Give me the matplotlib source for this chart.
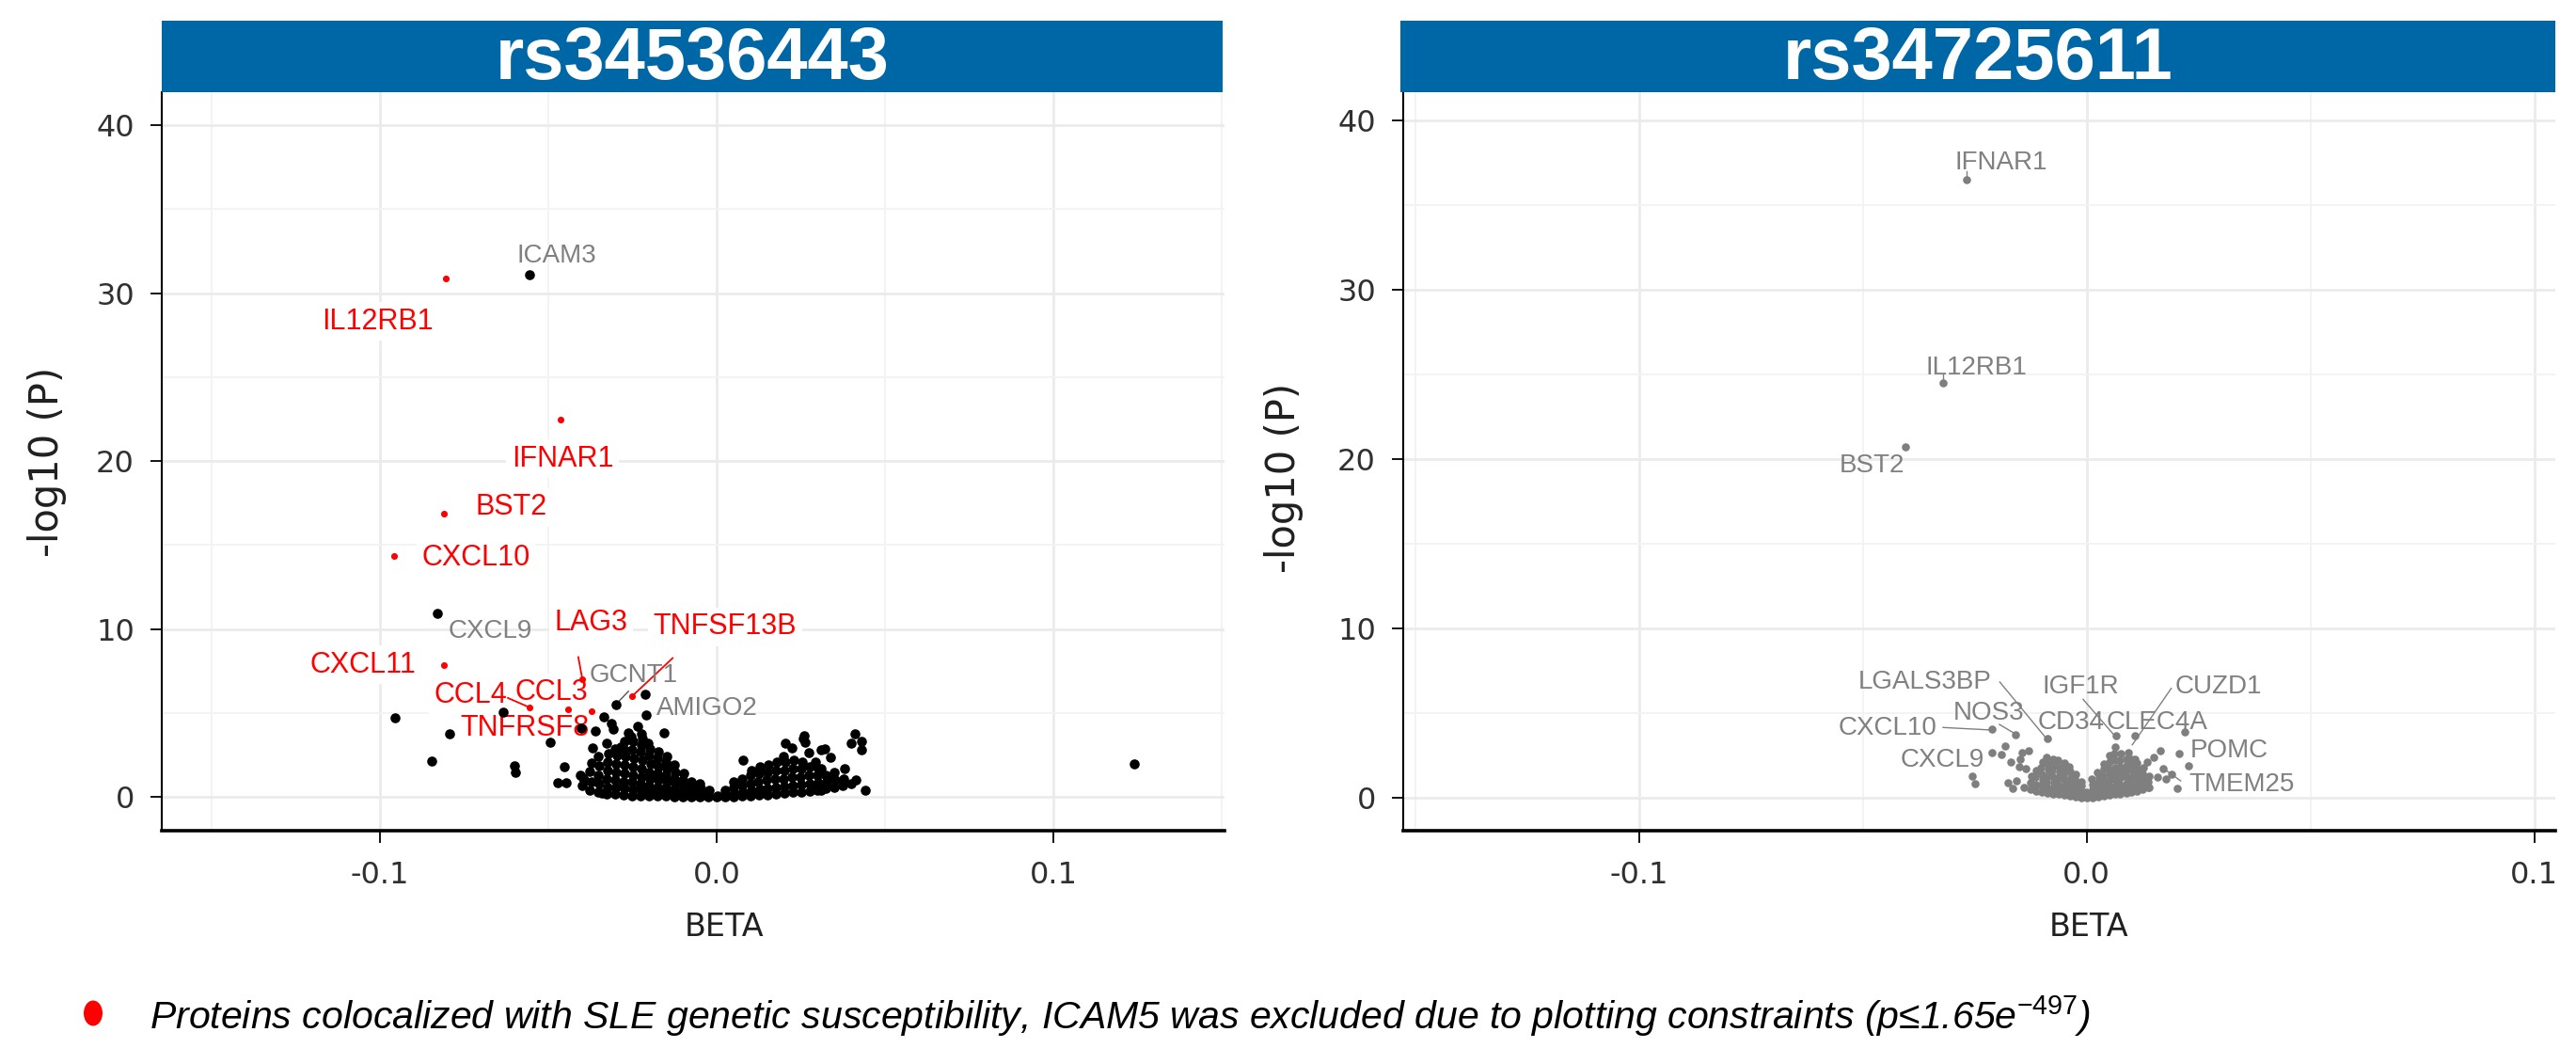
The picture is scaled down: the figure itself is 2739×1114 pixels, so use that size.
import numpy as np
import matplotlib.pyplot as plt
from matplotlib import font_manager
from matplotlib.ticker import MultipleLocator
from matplotlib.patches import Ellipse

"""
Volcano plots of protein associations for two SNPs (rs34536443, rs34725611)
"""


def has_font(name):
    try:
        font_manager.findfont(name, fallback_to_default=False)
        return True
    except ValueError:
        return False


note_font = 'Liberation Sans Narrow' if has_font('Liberation Sans Narrow') else 'Liberation Sans'

plt.rcParams['axes.unicode_minus'] = False
plt.rcParams['font.family'] = ['DejaVu Sans']
plt.rcParams['mathtext.fontset'] = 'custom'
plt.rcParams['mathtext.rm'] = note_font
plt.rcParams['mathtext.it'] = note_font + ':italic'

#%% data: rs34536443 (left panel)
left_title = 'rs34536443'

# colocalized proteins (red)
left_red_names = ['IL12RB1', 'IFNAR1', 'BST2', 'CXCL10', 'CXCL11', 'LAG3', 'TNFSF13B', 'CCL3', 'TNFRSF8', 'CCL4']
left_red_beta = [-0.0804, -0.0464, -0.0810, -0.0957, -0.0810, -0.0399, -0.0252, -0.0371, -0.0441, -0.0555]
left_red_logp = [30.85, 22.45, 16.85, 14.35, 7.87, 7.02, 5.99, 5.10, 5.25, 5.33]
left_red_lab_beta = [-0.1006, -0.0458, -0.0609, -0.0715, -0.1050, -0.0372, 0.0025, -0.0490, -0.0571, -0.0732]
left_red_lab_logp = [28.3, 20.14, 17.25, 14.25, 7.86, 10.38, 10.14, 6.22, 4.09, 6.05]

# other labelled proteins (grey text)
left_grey_names = ['ICAM3', 'CXCL9', 'GCNT1', 'AMIGO2']
left_grey_lab_beta = [-0.0475, -0.0673, -0.0246, -0.0029]
left_grey_lab_logp = [32.2, 9.9, 7.23, 5.27]

# all other proteins (black)
left_points = [
    (-0.0555, 31.10), (-0.0830, 10.95), (-0.0955, 4.74), (-0.0792, 3.75), (-0.0846, 2.16),
    (-0.0601, 1.88), (-0.0598, 1.50), (-0.0634, 5.05), (-0.0494, 3.28), (-0.0453, 1.79),
    (-0.0471, 0.86), (-0.0448, 0.86), (-0.0299, 5.53), (-0.0212, 6.12), (-0.0210, 4.87),
    (-0.0156, 3.80), (-0.0336, 4.78), (-0.0313, 4.41), (-0.0308, 4.03), (-0.0360, 3.94),
    (-0.0401, 4.13), (-0.0327, 3.23), (-0.0285, 3.00), (-0.0369, 2.91), (-0.0262, 3.85),
    (-0.0234, 4.22), (-0.0224, 3.75), (-0.0406, 1.32), (-0.0392, 0.95), (-0.0341, 0.24),
    (0.0078, 2.20), (0.0260, 3.66), (0.0262, 3.29), (0.0204, 3.19), (0.0223, 2.91),
    (0.0409, 3.75), (0.0400, 3.19), (0.0430, 2.82), (0.0311, 2.82), (0.0339, 2.35),
    (0.0274, 2.63), (0.0292, 2.07), (0.0441, 0.43), (0.0413, 1.05), (0.0381, 1.70),
    (0.0344, 1.18), (0.0311, 1.70), (0.0292, 0.58), (0.0311, 0.39), (0.1240, 1.96),
    (0.0258, 3.51), (0.0320, 2.86), (0.0430, 3.30),
    # dense core, negative side
    (-0.0400, 0.70), (-0.0398, 1.15),
    (-0.0377, 0.40), (-0.0373, 0.90), (-0.0376, 1.55), (-0.0372, 2.05),
    (-0.0352, 0.30), (-0.0349, 0.80), (-0.0353, 1.30), (-0.0348, 1.85), (-0.0351, 2.40),
    (-0.0326, 0.20), (-0.0324, 0.60), (-0.0327, 1.10), (-0.0323, 1.60), (-0.0325, 2.10), (-0.0322, 2.60),
    (-0.0301, 0.18), (-0.0299, 0.60), (-0.0302, 1.00), (-0.0298, 1.50), (-0.0300, 2.00), (-0.0297, 2.50),
    (-0.0301, 2.90),
    (-0.0276, 0.15), (-0.0274, 0.50), (-0.0277, 0.90), (-0.0273, 1.40), (-0.0275, 1.90), (-0.0272, 2.40),
    (-0.0276, 2.90), (-0.0274, 3.30),
    (-0.0251, 0.10), (-0.0249, 0.45), (-0.0252, 0.90), (-0.0248, 1.30), (-0.0250, 1.80), (-0.0247, 2.30),
    (-0.0251, 2.80), (-0.0249, 3.30), (-0.0253, 3.60),
    (-0.0226, 0.10), (-0.0224, 0.40), (-0.0227, 0.80), (-0.0223, 1.20), (-0.0225, 1.70), (-0.0222, 2.20),
    (-0.0226, 2.70), (-0.0224, 3.10), (-0.0221, 3.50),
    (-0.0201, 0.08), (-0.0199, 0.35), (-0.0202, 0.70), (-0.0198, 1.10), (-0.0200, 1.50), (-0.0197, 2.00),
    (-0.0201, 2.50), (-0.0199, 2.90), (-0.0203, 3.20),
    (-0.0176, 0.06), (-0.0174, 0.30), (-0.0177, 0.60), (-0.0173, 1.00), (-0.0175, 1.40), (-0.0172, 1.80),
    (-0.0176, 2.30), (-0.0174, 2.70),
    (-0.0151, 0.05), (-0.0149, 0.25), (-0.0152, 0.55), (-0.0148, 0.90), (-0.0150, 1.30), (-0.0147, 1.70),
    (-0.0151, 2.10), (-0.0149, 2.40),
    (-0.0126, 0.04), (-0.0124, 0.20), (-0.0127, 0.45), (-0.0123, 0.80), (-0.0125, 1.10), (-0.0122, 1.50),
    (-0.0126, 1.90),
    (-0.0101, 0.03), (-0.0099, 0.15), (-0.0102, 0.40), (-0.0098, 0.70), (-0.0100, 1.00), (-0.0097, 1.40),
    (-0.0076, 0.02), (-0.0074, 0.10), (-0.0077, 0.30), (-0.0073, 0.60), (-0.0075, 0.90),
    (-0.0051, 0.01), (-0.0049, 0.08), (-0.0052, 0.25), (-0.0048, 0.50), (-0.0050, 0.80),
    (-0.0026, 0.00), (-0.0024, 0.05), (-0.0027, 0.20), (-0.0023, 0.40),
    (0.0000, 0.00), (0.0002, 0.10),
    # dense core, positive side
    (0.0025, 0.02), (0.0027, 0.15), (0.0024, 0.40),
    (0.0050, 0.04), (0.0052, 0.25), (0.0049, 0.60), (0.0051, 0.90),
    (0.0075, 0.06), (0.0077, 0.30), (0.0074, 0.70), (0.0076, 1.10),
    (0.0100, 0.10), (0.0102, 0.40), (0.0099, 0.80), (0.0101, 1.30), (0.0103, 1.60),
    (0.0125, 0.12), (0.0127, 0.45), (0.0124, 0.90), (0.0126, 1.40), (0.0128, 1.80),
    (0.0150, 0.15), (0.0152, 0.50), (0.0149, 1.00), (0.0151, 1.50), (0.0153, 1.90),
    (0.0175, 0.20), (0.0177, 0.60), (0.0174, 1.10), (0.0176, 1.60), (0.0178, 2.10),
    (0.0200, 0.25), (0.0202, 0.65), (0.0199, 1.10), (0.0201, 1.60), (0.0203, 2.10), (0.0198, 2.40),
    (0.0225, 0.30), (0.0227, 0.70), (0.0224, 1.20), (0.0226, 1.70), (0.0228, 2.20),
    (0.0250, 0.30), (0.0252, 0.75), (0.0249, 1.20), (0.0251, 1.70), (0.0253, 2.10),
    (0.0275, 0.35), (0.0277, 0.80), (0.0274, 1.30), (0.0276, 1.80),
    (0.0300, 0.40), (0.0302, 0.85), (0.0299, 1.30), (0.0301, 1.70),
    (0.0325, 0.50), (0.0327, 0.90), (0.0324, 1.30),
    (0.0350, 0.60), (0.0352, 1.00), (0.0349, 1.50),
    (0.0375, 0.70), (0.0377, 1.10),
    (0.0400, 0.80),
]

# leader lines (from label to point)
left_red_lines = [((-0.0411, 8.33), (-0.0399, 7.02)),
                  ((-0.0131, 8.27), (-0.0252, 5.99)),
                  ((-0.0620, 5.90), (-0.0555, 5.33))]
left_grey_lines = [((-0.0299, 5.53), (-0.0262, 6.30))]

#%% data: rs34725611 (right panel)
right_title = 'rs34725611'

right_names = ['IFNAR1', 'IL12RB1', 'BST2', 'LGALS3BP', 'IGF1R', 'CUZD1', 'NOS3', 'CD34', 'CLEC4A',
               'CXCL10', 'CXCL9', 'POMC', 'TMEM25']
right_lab_beta = [-0.0192, -0.0247, -0.0479, -0.0361, -0.0014, 0.0295, -0.0219, -0.0034, 0.0158,
                  -0.0445, -0.0323, 0.0319, 0.0346]
right_lab_logp = [37.48, 25.37, 19.6, 6.83, 6.55, 6.55, 5.0, 4.44, 4.44, 4.1, 2.25, 2.78, 0.78]

right_points = [
    (-0.0268, 36.50), (-0.0321, 24.50), (-0.0404, 20.70),
    (-0.0211, 4.05), (-0.0160, 3.74), (-0.0088, 3.50), (0.0066, 3.68), (0.0108, 3.68), (0.0220, 3.87),
    (0.0206, 2.63), (0.0227, 1.89), (0.0203, 0.54), (0.0178, 1.09), (0.0140, 0.63),
    (0.0164, 2.76), (0.0150, 2.39), (0.0136, 2.11), (0.0094, 2.67), (0.0108, 2.29),
    (-0.0183, 3.04), (-0.0190, 2.57), (-0.0169, 2.11), (-0.0148, 2.29), (-0.0137, 1.74),
    (-0.0151, 1.83), (-0.0176, 0.91), (-0.0158, 1.00), (-0.0256, 1.28), (-0.0249, 0.81),
    (-0.0130, 2.76), (-0.0144, 2.67), (-0.0211, 2.67), (0.0171, 1.74), (0.0190, 1.40),
    (0.0158, 1.20), (-0.0140, 0.60), (-0.0165, 0.55),
    # dense core, negative side
    (-0.0125, 0.50), (-0.0126, 0.90), (-0.0124, 1.30),
    (-0.0113, 0.40), (-0.0112, 0.80), (-0.0114, 1.20), (-0.0113, 1.60),
    (-0.0100, 0.35), (-0.0101, 0.70), (-0.0099, 1.05), (-0.0100, 1.40), (-0.0102, 1.80), (-0.0099, 2.10),
    (-0.0088, 0.30), (-0.0087, 0.60), (-0.0089, 0.95), (-0.0088, 1.30), (-0.0086, 1.65), (-0.0088, 2.00),
    (-0.0089, 2.40),
    (-0.0075, 0.25), (-0.0076, 0.55), (-0.0074, 0.90), (-0.0075, 1.25), (-0.0077, 1.60), (-0.0074, 1.95),
    (-0.0075, 2.30),
    (-0.0063, 0.20), (-0.0062, 0.50), (-0.0064, 0.80), (-0.0063, 1.15), (-0.0061, 1.50), (-0.0063, 1.85),
    (-0.0064, 2.20),
    (-0.0050, 0.15), (-0.0051, 0.45), (-0.0049, 0.75), (-0.0050, 1.05), (-0.0052, 1.40), (-0.0049, 1.75),
    (-0.0050, 2.05),
    (-0.0038, 0.10), (-0.0037, 0.35), (-0.0039, 0.65), (-0.0038, 0.95), (-0.0036, 1.25), (-0.0038, 1.55),
    (-0.0039, 1.85),
    (-0.0025, 0.05), (-0.0026, 0.30), (-0.0024, 0.55), (-0.0025, 0.80), (-0.0027, 1.10), (-0.0024, 1.40),
    (-0.0013, 0.03), (-0.0012, 0.20), (-0.0014, 0.45), (-0.0013, 0.70), (-0.0011, 0.95),
    (0.0000, 0.00), (0.0001, 0.15), (-0.0001, 0.35),
    # dense core, positive side
    (0.0013, 0.03), (0.0012, 0.25), (0.0014, 0.50), (0.0013, 0.80), (0.0011, 1.10),
    (0.0025, 0.06), (0.0026, 0.30), (0.0024, 0.60), (0.0025, 0.90), (0.0027, 1.20), (0.0024, 1.50),
    (0.0038, 0.10), (0.0037, 0.35), (0.0039, 0.65), (0.0038, 1.00), (0.0036, 1.35), (0.0038, 1.70),
    (0.0039, 2.00),
    (0.0050, 0.15), (0.0051, 0.40), (0.0049, 0.70), (0.0050, 1.05), (0.0052, 1.40), (0.0049, 1.75),
    (0.0050, 2.10), (0.0051, 2.50),
    (0.0063, 0.20), (0.0062, 0.45), (0.0064, 0.75), (0.0063, 1.10), (0.0061, 1.45), (0.0063, 1.80),
    (0.0064, 2.20), (0.0062, 2.60), (0.0063, 3.00),
    (0.0075, 0.25), (0.0076, 0.50), (0.0074, 0.80), (0.0075, 1.15), (0.0077, 1.50), (0.0074, 1.85),
    (0.0075, 2.20), (0.0076, 2.60),
    (0.0088, 0.30), (0.0087, 0.55), (0.0089, 0.85), (0.0088, 1.20), (0.0086, 1.55), (0.0088, 1.90),
    (0.0089, 2.30),
    (0.0100, 0.35), (0.0101, 0.60), (0.0099, 0.90), (0.0100, 1.25), (0.0102, 1.60), (0.0099, 1.95),
    (0.0100, 2.30),
    (0.0113, 0.40), (0.0112, 0.70), (0.0114, 1.00), (0.0113, 1.35), (0.0111, 1.70), (0.0113, 2.05),
    (0.0125, 0.50), (0.0126, 0.80), (0.0124, 1.10), (0.0125, 1.45), (0.0127, 1.80),
    (0.0138, 0.60), (0.0137, 0.95), (0.0139, 1.30),
]

right_lines = [((-0.0194, 6.83), (-0.0090, 3.50)),
               ((-0.0008, 5.81), (0.0062, 3.68)),
               ((0.0189, 6.46), (0.0102, 3.13)),
               ((-0.0195, 4.33), (-0.0160, 3.78)),
               ((-0.0321, 4.15), (-0.0212, 4.00)),
               ((0.0210, 1.00), (0.0171, 1.74)),
               ((-0.0268, 36.6), (-0.0268, 37.0)),
               ((-0.0321, 24.6), (-0.0321, 25.0))]

footnote = 'Proteins colocalized with SLE genetic susceptibility, ICAM5 was excluded due to plotting constraints (p\u22641.65e$^{-497}$)'

#%% layout (pixel boxes of the reference picture)
W, H = 2739, 1114
blue = '#0067A6'
grey_txt = '#808080'


def box(x0, x1, y0, y1):
    # pixel box -> figure fraction [left, bottom, width, height]
    return [x0 / W, 1 - y1 / H, (x1 - x0) / W, (y1 - y0) / H]


fig = plt.figure(figsize=(W / 100, H / 100), dpi=100)


def setup_axes(ax, xlim, ylim):
    ax.set_xlim(xlim)
    ax.set_ylim(ylim)
    ax.xaxis.set_major_locator(MultipleLocator(0.1))
    ax.xaxis.set_minor_locator(MultipleLocator(0.05))
    ax.yaxis.set_major_locator(MultipleLocator(10))
    ax.yaxis.set_minor_locator(MultipleLocator(5))
    ax.xaxis.set_major_formatter(plt.FuncFormatter(lambda v, p: '%.1f' % v))
    ax.grid(which='major', color='#EBEBEB', linewidth=2.0)
    ax.grid(which='minor', color='#F3F3F3', linewidth=1.4)
    ax.set_axisbelow(True)
    for s in ['top', 'right']:
        ax.spines[s].set_visible(False)
    ax.spines['left'].set_linewidth(1.5)
    ax.spines['bottom'].set_linewidth(2.6)
    ax.tick_params(which='major', direction='out', length=9, width=1.3, labelsize=23,
                   labelcolor='#303030')
    ax.tick_params(axis='y', pad=12)
    ax.tick_params(axis='x', pad=14)
    ax.tick_params(which='minor', length=0)


def header(x0, x1, title):
    hax = fig.add_axes(box(x0, x1, 22, 98))
    hax.set_facecolor(blue)
    hax.set_xticks([])
    hax.set_yticks([])
    for s in hax.spines.values():
        s.set_visible(False)
    hax.text(0.5, 0.46, title, transform=hax.transAxes, ha='center', va='center',
             color='white', fontsize=56, fontweight='bold', family='Liberation Sans')


#%% left panel
ax1 = fig.add_axes(box(172, 1302, 98, 883))
setup_axes(ax1, (-0.1648, 0.1508), (-2.0, 41.96))
header(172, 1300, left_title)

lb = np.array([p[0] for p in left_points])
ll = np.array([p[1] for p in left_points])
ax1.scatter(lb, ll, s=58, color='black', linewidths=0, zorder=3)
ax1.scatter(left_red_beta, left_red_logp, s=26, color='red', linewidths=0, zorder=4)

for (x0, y0), (x1, y1) in left_red_lines:
    ax1.plot([x0, x1], [y0, y1], color='red', linewidth=1.3, zorder=5)
for (x0, y0), (x1, y1) in left_grey_lines:
    ax1.plot([x0, x1], [y0, y1], color='#555555', linewidth=1.0, zorder=2)

for name, x, y in zip(left_grey_names, left_grey_lab_beta, left_grey_lab_logp):
    ax1.text(x, y, name, color=grey_txt, fontsize=20, family='Liberation Sans',
             ha='center', va='center', zorder=6)
for name, x, y in zip(left_red_names, left_red_lab_beta, left_red_lab_logp):
    ax1.text(x, y, name, color='red', fontsize=22, family='Liberation Sans',
             ha='center', va='center', zorder=2.5,
             bbox=dict(facecolor='white', edgecolor='none', pad=4))

ax1.set_ylabel('-log10 (P)', fontsize=30, color='#202020', va='center')
ax1.yaxis.set_label_coords(-0.108, 0.50)
ax1.set_xlabel('BETA', fontsize=24, color='#202020', va='center')
ax1.xaxis.set_label_coords(0.529, -0.13)

#%% right panel
ax2 = fig.add_axes(box(1492, 2717, 98, 883))
setup_axes(ax2, (-0.1527, 0.1047), (-1.94, 41.64))
header(1489, 2717, right_title)

for (x0, y0), (x1, y1) in right_lines:
    ax2.plot([x0, x1], [y0, y1], color='#808080', linewidth=1.0, zorder=2)

rb = np.array([p[0] for p in right_points])
rl = np.array([p[1] for p in right_points])
ax2.scatter(rb, rl, s=38, color='#7F7F7F', linewidths=0, zorder=3)

for name, x, y in zip(right_names, right_lab_beta, right_lab_logp):
    ax2.text(x, y, name, color=grey_txt, fontsize=20, family='Liberation Sans',
             ha='center', va='center', zorder=6)

ax2.set_ylabel('-log10 (P)', fontsize=30, color='#202020', va='center')
ax2.yaxis.set_label_coords(-0.1037, 0.478)
ax2.set_xlabel('BETA', fontsize=24, color='#202020', va='center')
ax2.xaxis.set_label_coords(0.595, -0.13)

#%% footnote with red bullet
fig.patches.append(Ellipse((99 / W, 1 - 1077 / H), 20 / W, 27 / H, transform=fig.transFigure,
                           facecolor='red', edgecolor='none'))
note = fig.text(159 / W, 1 - 1080 / H, footnote, fontsize=26, style='italic',
                family=note_font, ha='left', va='center', color='black')
fig.canvas.draw()
wid = note.get_window_extent().width
note.set_fontsize(26 * 2063 / wid)

plt.savefig('out.png', dpi=100)
